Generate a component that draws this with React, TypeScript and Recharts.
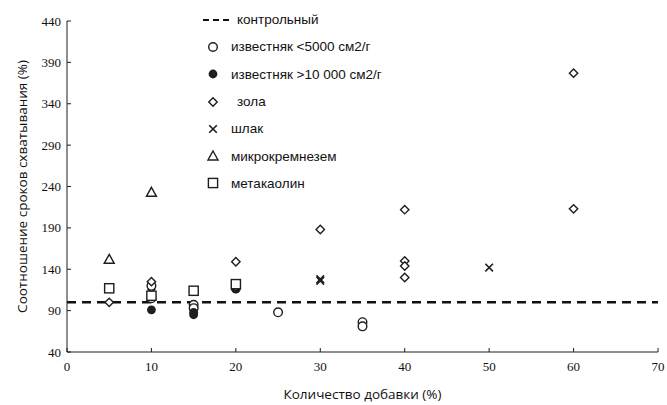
import { ScatterChart, Scatter, XAxis, YAxis, ReferenceLine, Legend } from "recharts"

const X_TICKS = [0, 10, 20, 30, 40, 50, 60, 70]
const Y_TICKS = [40, 90, 140, 190, 240, 290, 340, 390, 440]
const CONTROL = 100

// добавка (%) -> соотношение сроков схватывания (%)
const limestoneCoarse = [
  { x: 10, y: 120 },
  { x: 10, y: 105 },
  { x: 15, y: 97 },
  { x: 15, y: 93 },
  { x: 20, y: 117 },
  { x: 25, y: 88 },
  { x: 35, y: 76 },
  { x: 35, y: 71 },
]
const limestoneFine = [
  { x: 10, y: 91 },
  { x: 15, y: 88 },
  { x: 15, y: 85 },
  { x: 20, y: 116 },
]
const flyAsh = [
  { x: 5, y: 100 },
  { x: 10, y: 125 },
  { x: 20, y: 149 },
  { x: 20, y: 119 },
  { x: 30, y: 188 },
  { x: 40, y: 212 },
  { x: 40, y: 150 },
  { x: 40, y: 144 },
  { x: 40, y: 130 },
  { x: 60, y: 377 },
  { x: 60, y: 213 },
]
const slag = [
  { x: 10, y: 112 },
  { x: 30, y: 128 },
  { x: 30, y: 126 },
  { x: 50, y: 142 },
]
const silicaFume = [
  { x: 5, y: 152 },
  { x: 10, y: 233 },
]
const metakaolin = [
  { x: 5, y: 117 },
  { x: 10, y: 108 },
  { x: 15, y: 114 },
  { x: 20, y: 122 },
]

const SERIES = [
  { name: "известняк <5000 см2/г", kind: "circle", data: limestoneCoarse },
  { name: "известняк >10 000 см2/г", kind: "dot", data: limestoneFine },
  { name: "зола", kind: "diamond", data: flyAsh },
  { name: "шлак", kind: "cross", data: slag },
  { name: "микрокремнезем", kind: "triangle", data: silicaFume },
  { name: "метакаолин", kind: "square", data: metakaolin },
]

const INK = "#1e1e1e"

function Marker({ kind, cx, cy }: { kind: string; cx: number; cy: number }) {
  const common = { stroke: INK, strokeWidth: 1.4, fill: "#fff" }
  switch (kind) {
    case "circle":
      return <circle cx={cx} cy={cy} r={4.3} {...common} />
    case "dot":
      return <circle cx={cx} cy={cy} r={4.4} fill={INK} />
    case "diamond":
      return <path d={`M${cx},${cy - 4.2}L${cx + 4.2},${cy}L${cx},${cy + 4.2}L${cx - 4.2},${cy}Z`} {...common} />
    case "cross":
      return (
        <path
          d={`M${cx - 3.8},${cy - 3.8}L${cx + 3.8},${cy + 3.8}M${cx + 3.8},${cy - 3.8}L${cx - 3.8},${cy + 3.8}`}
          stroke={INK}
          strokeWidth={1.6}
          fill="none"
        />
      )
    case "triangle":
      return <path d={`M${cx},${cy - 5}L${cx + 5},${cy + 4}L${cx - 5},${cy + 4}Z`} {...common} />
    case "square":
      return <rect x={cx - 4.6} y={cy - 4.6} width={9.2} height={9.2} {...common} />
    default:
      return null
  }
}

function LegendBox() {
  const rows = [{ name: "контрольный", kind: "control" }, ...SERIES]
  return (
    <div style={{ fontFamily: "'Liberation Sans', Arial, sans-serif", fontSize: 13.5, color: "#111" }}>
      {rows.map((r) => (
        <div key={r.name} style={{ display: "flex", alignItems: "center", height: 27.3 }}>
          <svg width={36} height={20}>
            {r.kind === "control" ? (
              <line x1={8} y1={10} x2={36} y2={10} stroke="#111" strokeWidth={2} strokeDasharray="6 4" />
            ) : (
              <Marker kind={r.kind} cx={18} cy={10} />
            )}
          </svg>
          <span style={{ marginLeft: r.kind === "control" || r.kind === "diamond" ? 6 : 0 }}>{r.name}</span>
        </div>
      ))}
    </div>
  )
}

const tickStyle = { fontFamily: "'Liberation Serif', 'Times New Roman', serif", fontSize: 13, fill: "#111" }
const titleStyle = { fontFamily: "'Open Sans', sans-serif", fontSize: 13.5, fill: "#111", textAnchor: "middle" }

export default function App() {
  return (
    <div style={{ position: "fixed", left: 0, top: 0, background: "#fff" }}>
      <ScatterChart width={667} height={405} margin={{ top: 21, right: 9, bottom: 20, left: 17 }}>
        <XAxis
          type="number"
          dataKey="x"
          domain={[0, 70]}
          ticks={X_TICKS}
          height={33}
          stroke={INK}
          tickSize={-4}
          tickMargin={14}
          tick={tickStyle}
          label={{ value: "Количество добавки (%)", position: "bottom", offset: 4, style: titleStyle }}
        />
        <YAxis
          type="number"
          dataKey="y"
          domain={[40, 440]}
          ticks={Y_TICKS}
          width={50}
          stroke={INK}
          tickSize={-4}
          tickMargin={10}
          tick={tickStyle}
          label={{
            value: "Соотношение сроков схватывания (%)",
            angle: -90,
            position: "insideLeft",
            offset: 5,
            style: titleStyle,
          }}
        />
        <ReferenceLine y={CONTROL} stroke="#111" strokeWidth={2.5} strokeDasharray="9 6" />
        {SERIES.map((s) => (
          <Scatter
            key={s.name}
            name={s.name}
            data={s.data}
            isAnimationActive={false}
            shape={(p: any) => <Marker kind={s.kind} cx={p.cx} cy={p.cy} />}
          />
        ))}
        <Legend
          layout="vertical"
          align="center"
          verticalAlign="middle"
          content={() => <LegendBox />}
          wrapperStyle={{ left: 195, top: 6, width: 260 }}
        />
      </ScatterChart>
    </div>
  )
}
